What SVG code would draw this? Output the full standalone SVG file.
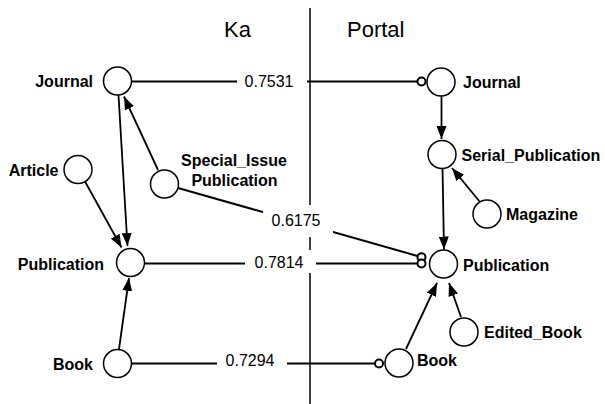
<svg xmlns="http://www.w3.org/2000/svg" width="605" height="404" viewBox="0 0 605 404">
<defs>
<marker id="arrow" markerUnits="userSpaceOnUse" markerWidth="14" markerHeight="10" refX="13" refY="5" orient="auto">
<path d="M0,0 L13,5 L0,10 z" fill="#000"/>
</marker>
<style>
text{font-family:"Liberation Sans",Arial,Helvetica,sans-serif;fill:#000}
.title{font-size:22px}
.lbl{font-size:16px;font-weight:bold}
.num{font-size:16px;text-anchor:middle}
.node{fill:#fff;stroke:#000;stroke-width:1.5}
.arr{stroke:#000;stroke-width:1.8;fill:none;marker-end:url(#arrow)}
.map{stroke:#000;stroke-width:2;fill:none}
.end{fill:#fff;stroke:#000;stroke-width:2}
.bg{fill:#fff}
</style>
</defs>
<rect width="605" height="404" fill="#fff"/>
<text class="title" x="237.5" y="37" text-anchor="middle">Ka</text>
<text class="title" x="347" y="37">Portal</text>
<line x1="310" y1="8" x2="310" y2="404" stroke="#000" stroke-width="1.5"/>
<g id="connectors">
<path class="arr" d="M118.5,95 L127.5,246"/>
<path class="arr" d="M158,170 L124,96.5"/>
<path class="arr" d="M85,181.5 L121.5,247.5"/>
<path class="arr" d="M119,349 L129,278"/>
<path class="arr" d="M441.5,96 L441.5,139"/>
<path class="arr" d="M480,202 L452,168"/>
<path class="arr" d="M442.5,168 L444,249.5"/>
<path class="arr" d="M406,349 L437,283"/>
<path class="arr" d="M461,317 L449,283"/>
<path class="map" d="M131.5,81.5 L417.5,81.5"/>
<circle class="end" cx="421.5" cy="81.5" r="4"/>
<path class="map" d="M178,188 L417.5,256"/>
<circle class="end" cx="421.5" cy="257.2" r="4"/>
<path class="map" d="M145,263.5 L417.5,263.5"/>
<circle class="end" cx="421.5" cy="263.5" r="4"/>
<path class="map" d="M131.5,363.5 L375,363.5"/>
<circle class="end" cx="379" cy="363.5" r="4"/>
<rect class="bg" x="237" y="70" width="70" height="23"/>
<text class="num" x="269" y="86.5">0.7531</text>
<rect class="bg" x="263" y="205" width="70" height="32"/>
<text class="num" x="296" y="226">0.6175</text>
<rect class="bg" x="245" y="250" width="71" height="23"/>
<text class="num" x="279" y="267.5">0.7814</text>
<rect class="bg" x="217" y="352" width="70" height="23"/>
<text class="num" x="250" y="366">0.7294</text>
</g>
<g id="ka-journal"><circle class="node" cx="117.5" cy="81" r="14"/><text class="lbl" x="93" y="87" text-anchor="end">Journal</text></g>
<g id="ka-article"><circle class="node" cx="78" cy="169.5" r="14"/><text class="lbl" x="58.5" y="175.5" text-anchor="end">Article</text></g>
<g id="ka-special-issue"><circle class="node" cx="164.5" cy="184" r="14"/><text class="lbl" x="234" y="166" text-anchor="middle">Special_Issue</text><text class="lbl" x="234.5" y="186" text-anchor="middle">Publication</text></g>
<g id="ka-publication"><circle class="node" cx="130.5" cy="262.5" r="14"/><text class="lbl" x="104" y="270" text-anchor="end">Publication</text></g>
<g id="ka-book"><circle class="node" cx="117.5" cy="363.5" r="14"/><text class="lbl" x="93" y="370" text-anchor="end">Book</text></g>
<g id="portal-journal"><circle class="node" cx="441" cy="82" r="14"/><text class="lbl" x="463" y="88">Journal</text></g>
<g id="portal-serial-publication"><circle class="node" cx="442" cy="154.5" r="14"/><text class="lbl" x="461.5" y="160.5">Serial_Publication</text></g>
<g id="portal-magazine"><circle class="node" cx="487" cy="214" r="14"/><text class="lbl" x="506" y="220">Magazine</text></g>
<g id="portal-publication"><circle class="node" cx="443.5" cy="264" r="14"/><text class="lbl" x="463" y="270.5">Publication</text></g>
<g id="portal-edited-book"><circle class="node" cx="464" cy="332" r="14"/><text class="lbl" x="484" y="337.5">Edited_Book</text></g>
<g id="portal-book"><circle class="node" cx="399" cy="363" r="14"/><text class="lbl" x="417" y="366">Book</text></g>
</svg>
